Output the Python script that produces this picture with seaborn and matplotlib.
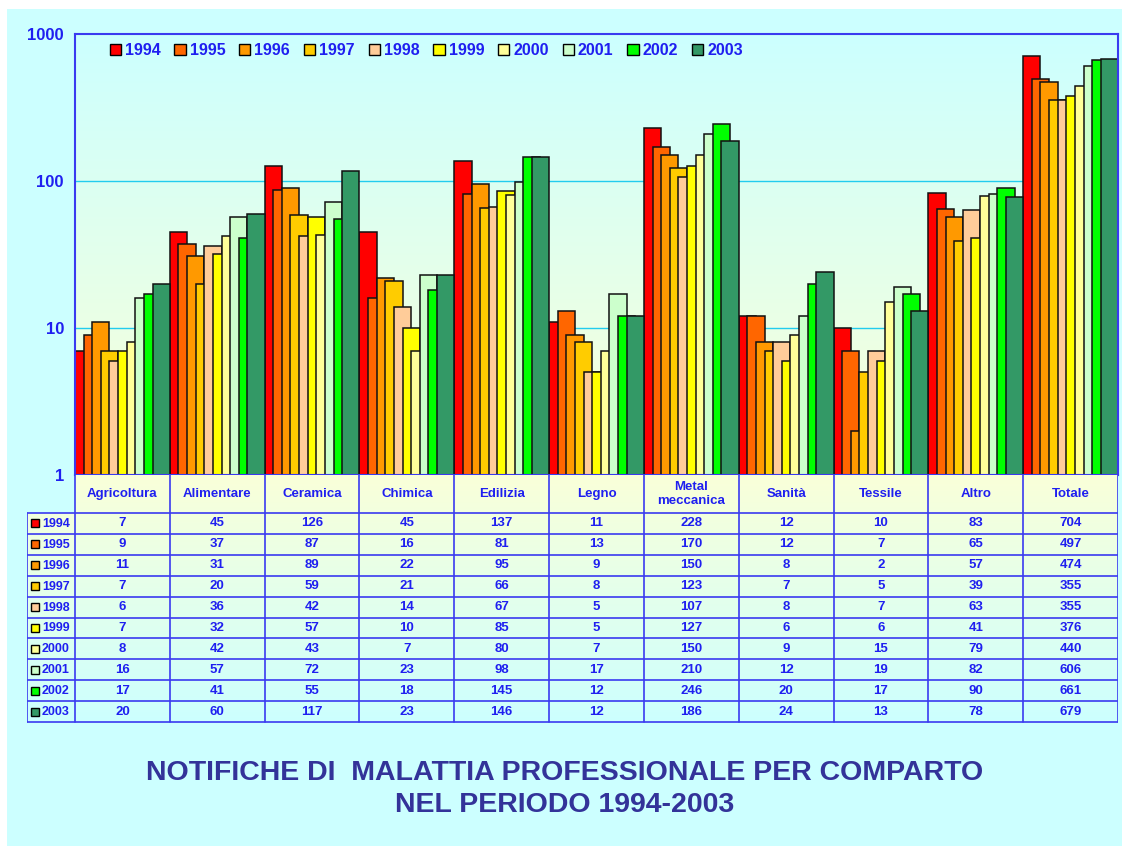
import numpy as np
import pandas as pd
import seaborn as sns
import matplotlib.pyplot as plt
from matplotlib.patches import Patch

categories = ['Agricoltura', 'Alimentare', 'Ceramica', 'Chimica', 'Edilizia', 'Legno',
              'Metal\nmeccanica', 'Sanità', 'Tessile', 'Altro', 'Totale']
years = ['1994', '1995', '1996', '1997', '1998', '1999', '2000', '2001', '2002', '2003']
v1994 = [7, 45, 126, 45, 137, 11, 228, 12, 10, 83, 704]
v1995 = [9, 37, 87, 16, 81, 13, 170, 12, 7, 65, 497]
v1996 = [11, 31, 89, 22, 95, 9, 150, 8, 2, 57, 474]
v1997 = [7, 20, 59, 21, 66, 8, 123, 7, 5, 39, 355]
v1998 = [6, 36, 42, 14, 67, 5, 107, 8, 7, 63, 355]
v1999 = [7, 32, 57, 10, 85, 5, 127, 6, 6, 41, 376]
v2000 = [8, 42, 43, 7, 80, 7, 150, 9, 15, 79, 440]
v2001 = [16, 57, 72, 23, 98, 17, 210, 12, 19, 82, 606]
v2002 = [17, 41, 55, 18, 145, 12, 246, 20, 17, 90, 661]
v2003 = [20, 60, 117, 23, 146, 12, 186, 24, 13, 78, 679]
values = [v1994, v1995, v1996, v1997, v1998, v1999, v2000, v2001, v2002, v2003]
colors = ['#FF0000', '#FF6600', '#FF9900', '#FFCC00', '#FFCC99',
          '#FFFF00', '#FFFF99', '#CCFFCC', '#00FF00', '#339966']

title = 'NOTIFICHE DI  MALATTIA PROFESSIONALE PER COMPARTO\nNEL PERIODO 1994-2003'

sns.set_style('white')
plt.rcParams['font.family'] = ['Liberation Sans', 'DejaVu Sans']
plt.rcParams['font.weight'] = 'bold'

BLUE = '#1F1FF0'
LINE = '#3A3AF0'
W, H = 1130, 852

fig = plt.figure(figsize=(11.3, 8.52), dpi=100, facecolor='white')
# cyan panel with thin white border
fig.patches.append(plt.Rectangle((7 / W, 6 / H), 1 - 15 / W, 1 - 15 / H, transform=fig.transFigure,
                                 facecolor='#CCFFFF', edgecolor='none', zorder=-10))


def px_axes(x0, y0, x1, y1):
    return fig.add_axes([x0 / W, 1 - y1 / H, (x1 - x0) / W, (y1 - y0) / H])


ax = px_axes(75, 34, 1118, 475)
# gradient background: cyan top -> light yellow bottom
grad = np.linspace(0, 1, 256).reshape(-1, 1)
top = np.array([0.80, 1.0, 1.0])
bot = np.array([0.98, 1.0, 0.85])
img = top[None, None, :] * (1 - grad[:, :, None]) + bot[None, None, :] * grad[:, :, None]
ax.imshow(img, extent=[0, 1, 0, 1], transform=ax.transAxes, aspect='auto', zorder=-5)

n = len(years)
step = 1 / (n + 1)
for j, yr in enumerate(years):
    df = pd.DataFrame({'pos': np.arange(len(categories)) + (j + 1) * step, 'value': values[j]})
    sns.barplot(data=df, x='pos', y='value', native_scale=True, width=2 * step,
                color=colors[j], saturation=1, edgecolor='#111111', linewidth=1.1, ax=ax,
                log_scale=(False, True))

ax.set_yscale('log')
ax.set_ylim(1, 1000)
ax.set_xlim(0, len(categories))
ax.set_xticks([])
ax.set_yticks([1, 10, 100, 1000])
ax.set_yticklabels(['1', '10', '100', '1000'])
ax.minorticks_off()
ax.tick_params(axis='y', direction='out', length=5, width=1.2, color=LINE, labelcolor=BLUE,
               labelsize=12, pad=3)
ax.set_xlabel('')
ax.set_ylabel('')
for yv in [10, 100]:
    ax.axhline(yv, color='#22CCEE', lw=1, zorder=0.5)
for s in ax.spines.values():
    s.set_color(LINE)
    s.set_linewidth(1.5)
for lab in ax.get_yticklabels():
    lab.set_fontweight('bold')

handles = [Patch(facecolor=c, edgecolor='black', linewidth=1) for c in colors]
leg = ax.legend(handles, years, loc='center left', bbox_to_anchor=(0.027, 0.962), ncol=n,
                frameon=False, handlelength=0.7, handleheight=0.7, handletextpad=0.25,
                columnspacing=0.87, borderaxespad=0, prop={'size': 11.5, 'weight': 'bold'})
for t in leg.get_texts():
    t.set_color(BLUE)

# data table below the chart
tab = px_axes(27, 475, 1118, 723)
tab.axis('off')
grad2 = bot[None, None, :] * (1 - grad[:, :, None]) + top[None, None, :] * grad[:, :, None]
tab.imshow(grad2, extent=[75, 1118, 723, 475], aspect='auto', zorder=0)
tab.imshow(grad2[int(256 * 38 / 248):], extent=[27, 75, 723, 513], aspect='auto', zorder=0)
tab.set_xlim(27, 1118)
tab.set_ylim(723, 475)

cw = (1118 - 75) / len(categories)
rh = (722 - 513) / n
for i, cat in enumerate(categories):
    cx = 75 + (i + 0.5) * cw
    tab.text(cx, 494, cat, ha='center', va='center', color=BLUE, fontsize=9.5, fontweight='bold',
             linespacing=1.3)
    for j in range(n):
        tab.text(cx, 513 + (j + 0.5) * rh, str(values[j][i]), ha='center', va='center',
                 color=BLUE, fontsize=9.5, fontweight='bold')
for j, yr in enumerate(years):
    cy = 513 + (j + 0.5) * rh
    tab.add_patch(plt.Rectangle((31, cy - 4), 8, 8, facecolor=colors[j], edgecolor='black', lw=1, zorder=3))
    tab.text(42, cy + 0.5, yr, ha='left', va='center', color=BLUE, fontsize=9, fontweight='bold')
# grid lines
for k in range(len(categories) + 1):
    tab.plot([75 + k * cw] * 2, [475, 722], color=LINE, lw=1.2, zorder=2)
tab.plot([27, 27], [513, 722], color=LINE, lw=1.2, zorder=2)
for j in range(n + 1):
    tab.plot([27, 1118], [513 + j * rh] * 2, color=LINE, lw=1.2, zorder=2)

fig.text(0.5, 1 - 789 / H, title, ha='center', va='center', color='#333399', fontsize=20.5,
         fontweight='bold', linespacing=1.3)

fig.savefig('out.png', dpi=100, facecolor='white')
